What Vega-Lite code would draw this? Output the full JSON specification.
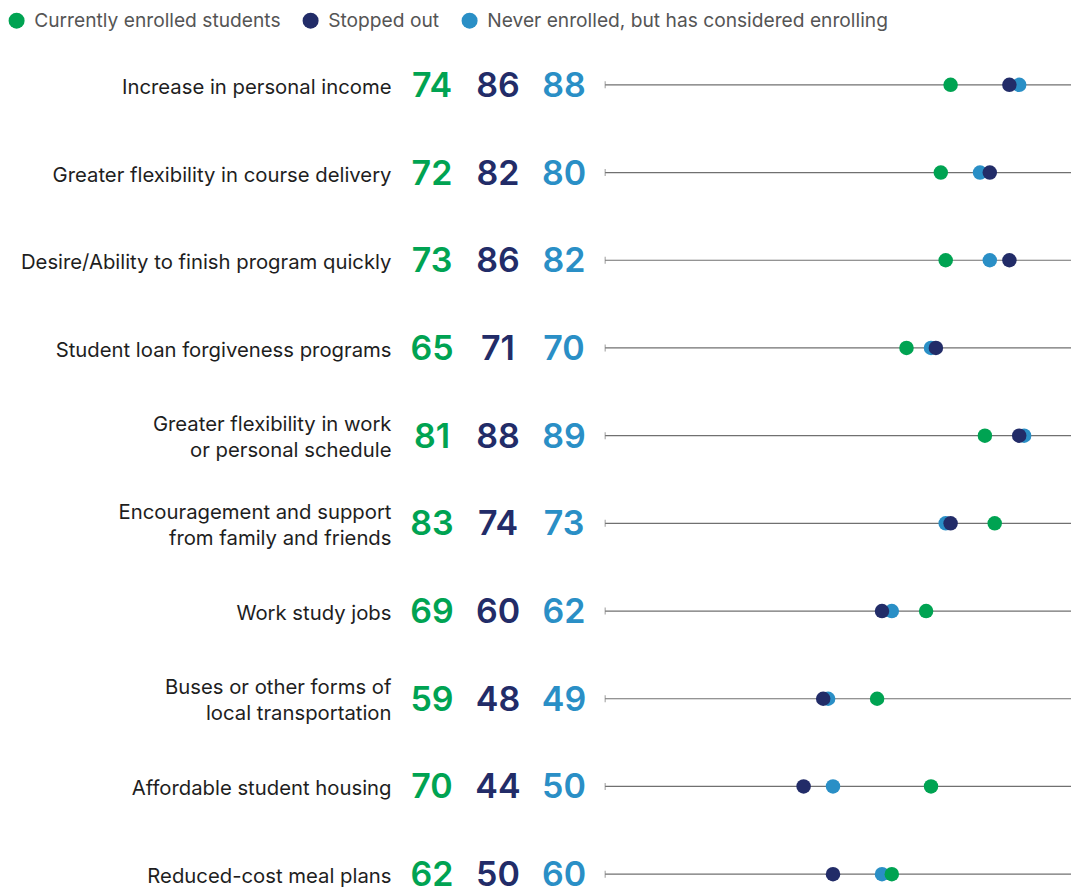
{
  "$schema": "https://vega.github.io/schema/vega-lite/v6.json",
  "autosize": "none",
  "padding": {"left": 405, "top": 41, "right": 0, "bottom": 0},
  "width": 666,
  "height": 877,
  "background": "white",
  "config": {
    "view": {"stroke": null},
    "font": "Inter",
    "axis": {"labelFont": "Inter", "labelFontSize": 20.3, "labelColor": "#1e1e1e", "labelLimit": 0},
    "legend": {"labelFont": "Inter", "labelFontSize": 19.2, "labelColor": "#555555", "labelLimit": 0}
  },
  "data": {
    "values": [
      {"factor": "Increase in personal income", "group": "Never enrolled, but has considered enrolling", "value": 88},
      {"factor": "Greater flexibility in course delivery", "group": "Never enrolled, but has considered enrolling", "value": 80},
      {"factor": "Desire/Ability to finish program quickly", "group": "Never enrolled, but has considered enrolling", "value": 82},
      {"factor": "Student loan forgiveness programs", "group": "Never enrolled, but has considered enrolling", "value": 70},
      {"factor": "Greater flexibility in work|or personal schedule", "group": "Never enrolled, but has considered enrolling", "value": 89},
      {"factor": "Encouragement and support|from family and friends", "group": "Never enrolled, but has considered enrolling", "value": 73},
      {"factor": "Work study jobs", "group": "Never enrolled, but has considered enrolling", "value": 62},
      {"factor": "Buses or other forms of|local transportation", "group": "Never enrolled, but has considered enrolling", "value": 49},
      {"factor": "Affordable student housing", "group": "Never enrolled, but has considered enrolling", "value": 50},
      {"factor": "Reduced-cost meal plans", "group": "Never enrolled, but has considered enrolling", "value": 60},
      {"factor": "Increase in personal income", "group": "Stopped out", "value": 86},
      {"factor": "Greater flexibility in course delivery", "group": "Stopped out", "value": 82},
      {"factor": "Desire/Ability to finish program quickly", "group": "Stopped out", "value": 86},
      {"factor": "Student loan forgiveness programs", "group": "Stopped out", "value": 71},
      {"factor": "Greater flexibility in work|or personal schedule", "group": "Stopped out", "value": 88},
      {"factor": "Encouragement and support|from family and friends", "group": "Stopped out", "value": 74},
      {"factor": "Work study jobs", "group": "Stopped out", "value": 60},
      {"factor": "Buses or other forms of|local transportation", "group": "Stopped out", "value": 48},
      {"factor": "Affordable student housing", "group": "Stopped out", "value": 44},
      {"factor": "Reduced-cost meal plans", "group": "Stopped out", "value": 50},
      {"factor": "Increase in personal income", "group": "Currently enrolled students", "value": 74},
      {"factor": "Greater flexibility in course delivery", "group": "Currently enrolled students", "value": 72},
      {"factor": "Desire/Ability to finish program quickly", "group": "Currently enrolled students", "value": 73},
      {"factor": "Student loan forgiveness programs", "group": "Currently enrolled students", "value": 65},
      {"factor": "Greater flexibility in work|or personal schedule", "group": "Currently enrolled students", "value": 81},
      {"factor": "Encouragement and support|from family and friends", "group": "Currently enrolled students", "value": 83},
      {"factor": "Work study jobs", "group": "Currently enrolled students", "value": 69},
      {"factor": "Buses or other forms of|local transportation", "group": "Currently enrolled students", "value": 59},
      {"factor": "Affordable student housing", "group": "Currently enrolled students", "value": 70},
      {"factor": "Reduced-cost meal plans", "group": "Currently enrolled students", "value": 62}
    ]
  },
  "encoding": {
    "y": {
      "field": "factor",
      "type": "nominal",
      "sort": null,
      "scale": {"type": "point", "padding": 0.5},
      "axis": {
        "title": null,
        "domain": false,
        "ticks": false,
        "labelPadding": 14,
        "labelLineHeight": 26,
        "labelOffset": {"condition": {"test": "indexof(datum.value, '|') >= 0", "value": -11}, "value": 2.5},
        "labelExpr": "split(datum.label, '|')"
      }
    }
  },
  "layer": [
    {
      "layer": [
        {
          "transform": [{"filter": "datum.group == 'Stopped out'"}],
          "mark": {"type": "rule", "color": "#707070", "strokeWidth": 1.2},
          "encoding": {
            "x": {"datum": 3.5, "type": "quantitative", "scale": {"domain": [0, 100], "range": [183, 673]}, "axis": null},
            "x2": {"datum": 100}
          }
        },
        {
          "transform": [{"filter": "datum.group == 'Stopped out'"}],
          "mark": {"type": "tick", "color": "#707070", "orient": "vertical", "size": 7, "thickness": 1},
          "encoding": {
            "x": {"datum": 3.5, "type": "quantitative", "scale": {"domain": [0, 100], "range": [183, 673]}, "axis": null}
          }
        },
        {
          "mark": {"type": "point", "filled": true, "opacity": 1, "size": 210},
          "encoding": {
            "x": {"field": "value", "type": "quantitative", "scale": {"domain": [0, 100], "range": [183, 673]}, "axis": null},
            "color": {
              "field": "group",
              "type": "nominal",
              "scale": {
                "domain": ["Currently enrolled students", "Stopped out", "Never enrolled, but has considered enrolling"],
                "range": ["#00a352", "#222c68", "#2a8fc6"]
              },
              "legend": {
                "title": null,
                "orient": "none",
                "direction": "horizontal",
                "legendX": -398,
                "legendY": -30,
                "symbolType": "circle",
                "symbolSize": 256,
                "symbolOpacity": 1,
                "labelOffset": 8,
                "columnPadding": 20
              }
            }
          }
        }
      ]
    },
    {
      "mark": {"type": "text", "fontSize": 34, "fontWeight": 600, "baseline": "middle", "align": "center", "dy": 2},
      "encoding": {
        "x": {
          "field": "group",
          "type": "nominal",
          "scale": {
            "type": "point",
            "padding": 0,
            "domain": ["Currently enrolled students", "Stopped out", "Never enrolled, but has considered enrolling"],
            "range": [27, 159]
          },
          "axis": null
        },
        "text": {"field": "value", "type": "quantitative"},
        "color": {"field": "group", "type": "nominal", "legend": null}
      }
    }
  ],
  "resolve": {"scale": {"x": "independent"}}
}
